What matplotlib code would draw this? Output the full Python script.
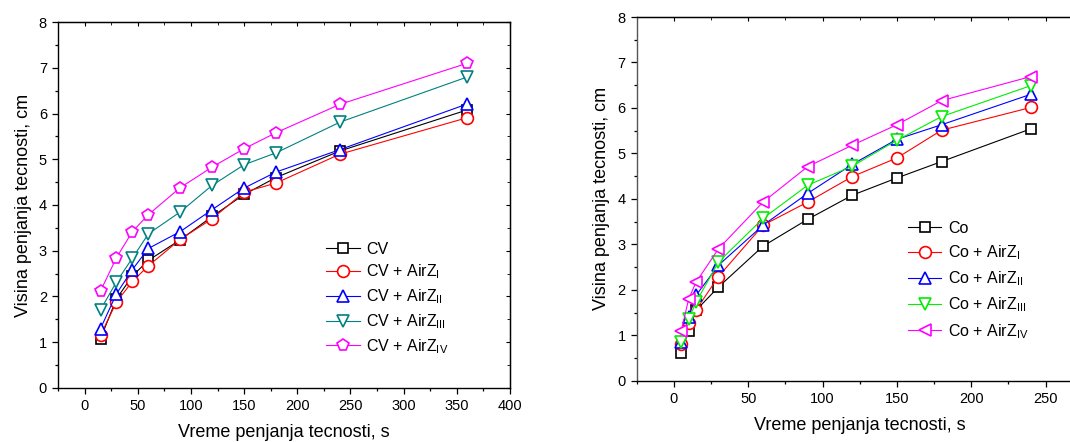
import numpy as np
import matplotlib
matplotlib.use("Agg")
import matplotlib.pyplot as plt
from matplotlib.ticker import MultipleLocator

plt.rcParams["font.family"] = ["Liberation Sans", "DejaVu Sans"]
plt.rcParams["mathtext.fontset"] = "custom"
plt.rcParams["mathtext.rm"] = "Liberation Sans"
plt.rcParams["mathtext.it"] = "Liberation Sans"

# Left chart: CV
time_cv = [15, 30, 45, 60, 90, 120, 150, 180, 240, 360]
cv = [1.08, 1.95, 2.45, 2.79, 3.24, 3.75, 4.23, 4.60, 5.18, 6.08]
cv_z1 = [1.15, 1.88, 2.33, 2.67, 3.25, 3.70, 4.28, 4.48, 5.11, 5.91]
cv_z2 = [1.30, 2.06, 2.59, 3.05, 3.42, 3.90, 4.37, 4.72, 5.21, 6.21]
cv_z3 = [1.71, 2.32, 2.84, 3.37, 3.85, 4.43, 4.88, 5.14, 5.81, 6.80]
cv_z4 = [2.12, 2.85, 3.42, 3.79, 4.38, 4.83, 5.23, 5.58, 6.20, 7.10]

# Right chart: Co
time_co = [5, 10, 15, 30, 60, 90, 120, 150, 180, 240]
co = [0.62, 1.10, 1.55, 2.06, 2.96, 3.55, 4.08, 4.46, 4.82, 5.54]
co_z1 = [0.80, 1.26, 1.56, 2.29, 3.42, 3.93, 4.49, 4.90, 5.51, 6.01]
co_z2 = [0.85, 1.41, 1.88, 2.54, 3.42, 4.12, 4.76, 5.31, 5.63, 6.30]
co_z3 = [0.85, 1.36, 1.73, 2.61, 3.57, 4.30, 4.72, 5.29, 5.81, 6.49]
co_z4 = [1.10, 1.80, 2.17, 2.90, 3.93, 4.71, 5.18, 5.63, 6.16, 6.69]

subs = ["", "$_{\\mathrm{I}}$", "$_{\\mathrm{II}}$", "$_{\\mathrm{III}}$", "$_{\\mathrm{IV}}$"]
labels_cv = ["CV"] + ["CV + AirZ" + s for s in subs[1:]]
labels_co = ["Co"] + ["Co + AirZ" + s for s in subs[1:]]

colors_cv = ["black", "red", "blue", "#008080", "magenta"]
colors_co = ["black", "red", "blue", "#00ee00", "magenta"]
markers_cv = ["s", "o", "^", "v", "p"]
markers_co = ["s", "o", "^", "v", "<"]

fig = plt.figure(figsize=(10.70, 4.42), dpi=100)
ax1 = fig.add_axes([0.0542, 0.1222, 0.4224, 0.828])
ax2 = fig.add_axes([0.5950, 0.1387, 0.4170, 0.8228])


def draw(ax, x, series, labels, colors, markers, xmax, leg_xy, spacing):
    for y, lab, c, m in zip(series, labels, colors, markers):
        ms = 7 if m == "s" else 8.5
        ax.plot(x, y, color=c, lw=0.8, marker=m, ms=ms, mfc="white",
                mec=c, mew=1.2, label=lab)
    ax.set_xlim(-25, xmax)
    ax.set_ylim(0, 8)
    ax.xaxis.set_major_locator(MultipleLocator(50))
    ax.xaxis.set_minor_locator(MultipleLocator(25))
    ax.yaxis.set_major_locator(MultipleLocator(1))
    ax.yaxis.set_minor_locator(MultipleLocator(0.5))
    ax.tick_params(which="both", direction="out", labelsize=10.5, width=0.9)
    ax.tick_params(which="major", length=4.5)
    ax.tick_params(which="minor", length=2.5)
    ax.set_xlabel("Vreme penjanja tecnosti, s", fontsize=13, labelpad=8)
    ax.set_ylabel("Visina penjanja tecnosti, cm", fontsize=13, labelpad=5)
    for sp in ax.spines.values():
        sp.set_linewidth(1.0)
    ax.legend(loc="upper left", bbox_to_anchor=leg_xy, frameon=False,
              fontsize=11.5, handlelength=2.1, handletextpad=0.4,
              labelspacing=spacing, borderpad=0, borderaxespad=0)

    # inward mirror ticks on top and right
    sec_x = ax.secondary_xaxis("top")
    sec_x.xaxis.set_major_locator(MultipleLocator(50))
    sec_x.xaxis.set_minor_locator(MultipleLocator(25))
    sec_x.tick_params(which="both", direction="in", labeltop=False)
    sec_x.tick_params(which="major", length=3)
    sec_x.tick_params(which="minor", length=2)
    sec_y = ax.secondary_yaxis("right")
    sec_y.yaxis.set_major_locator(MultipleLocator(1))
    sec_y.yaxis.set_minor_locator(MultipleLocator(0.5))
    sec_y.tick_params(which="both", direction="in", labelright=False)
    sec_y.tick_params(which="major", length=3)
    sec_y.tick_params(which="minor", length=2)


draw(ax1, time_cv, [cv, cv_z1, cv_z2, cv_z3, cv_z4], labels_cv,
     colors_cv, markers_cv, 400, (0.593, 0.40), 0.38)
draw(ax2, time_co, [co, co_z1, co_z2, co_z3, co_z4], labels_co,
     colors_co, markers_co, 275, (0.608, 0.44), 0.47)

ax2.spines["left"].set_color("#555555")

fig.savefig("out.png", dpi=100)
